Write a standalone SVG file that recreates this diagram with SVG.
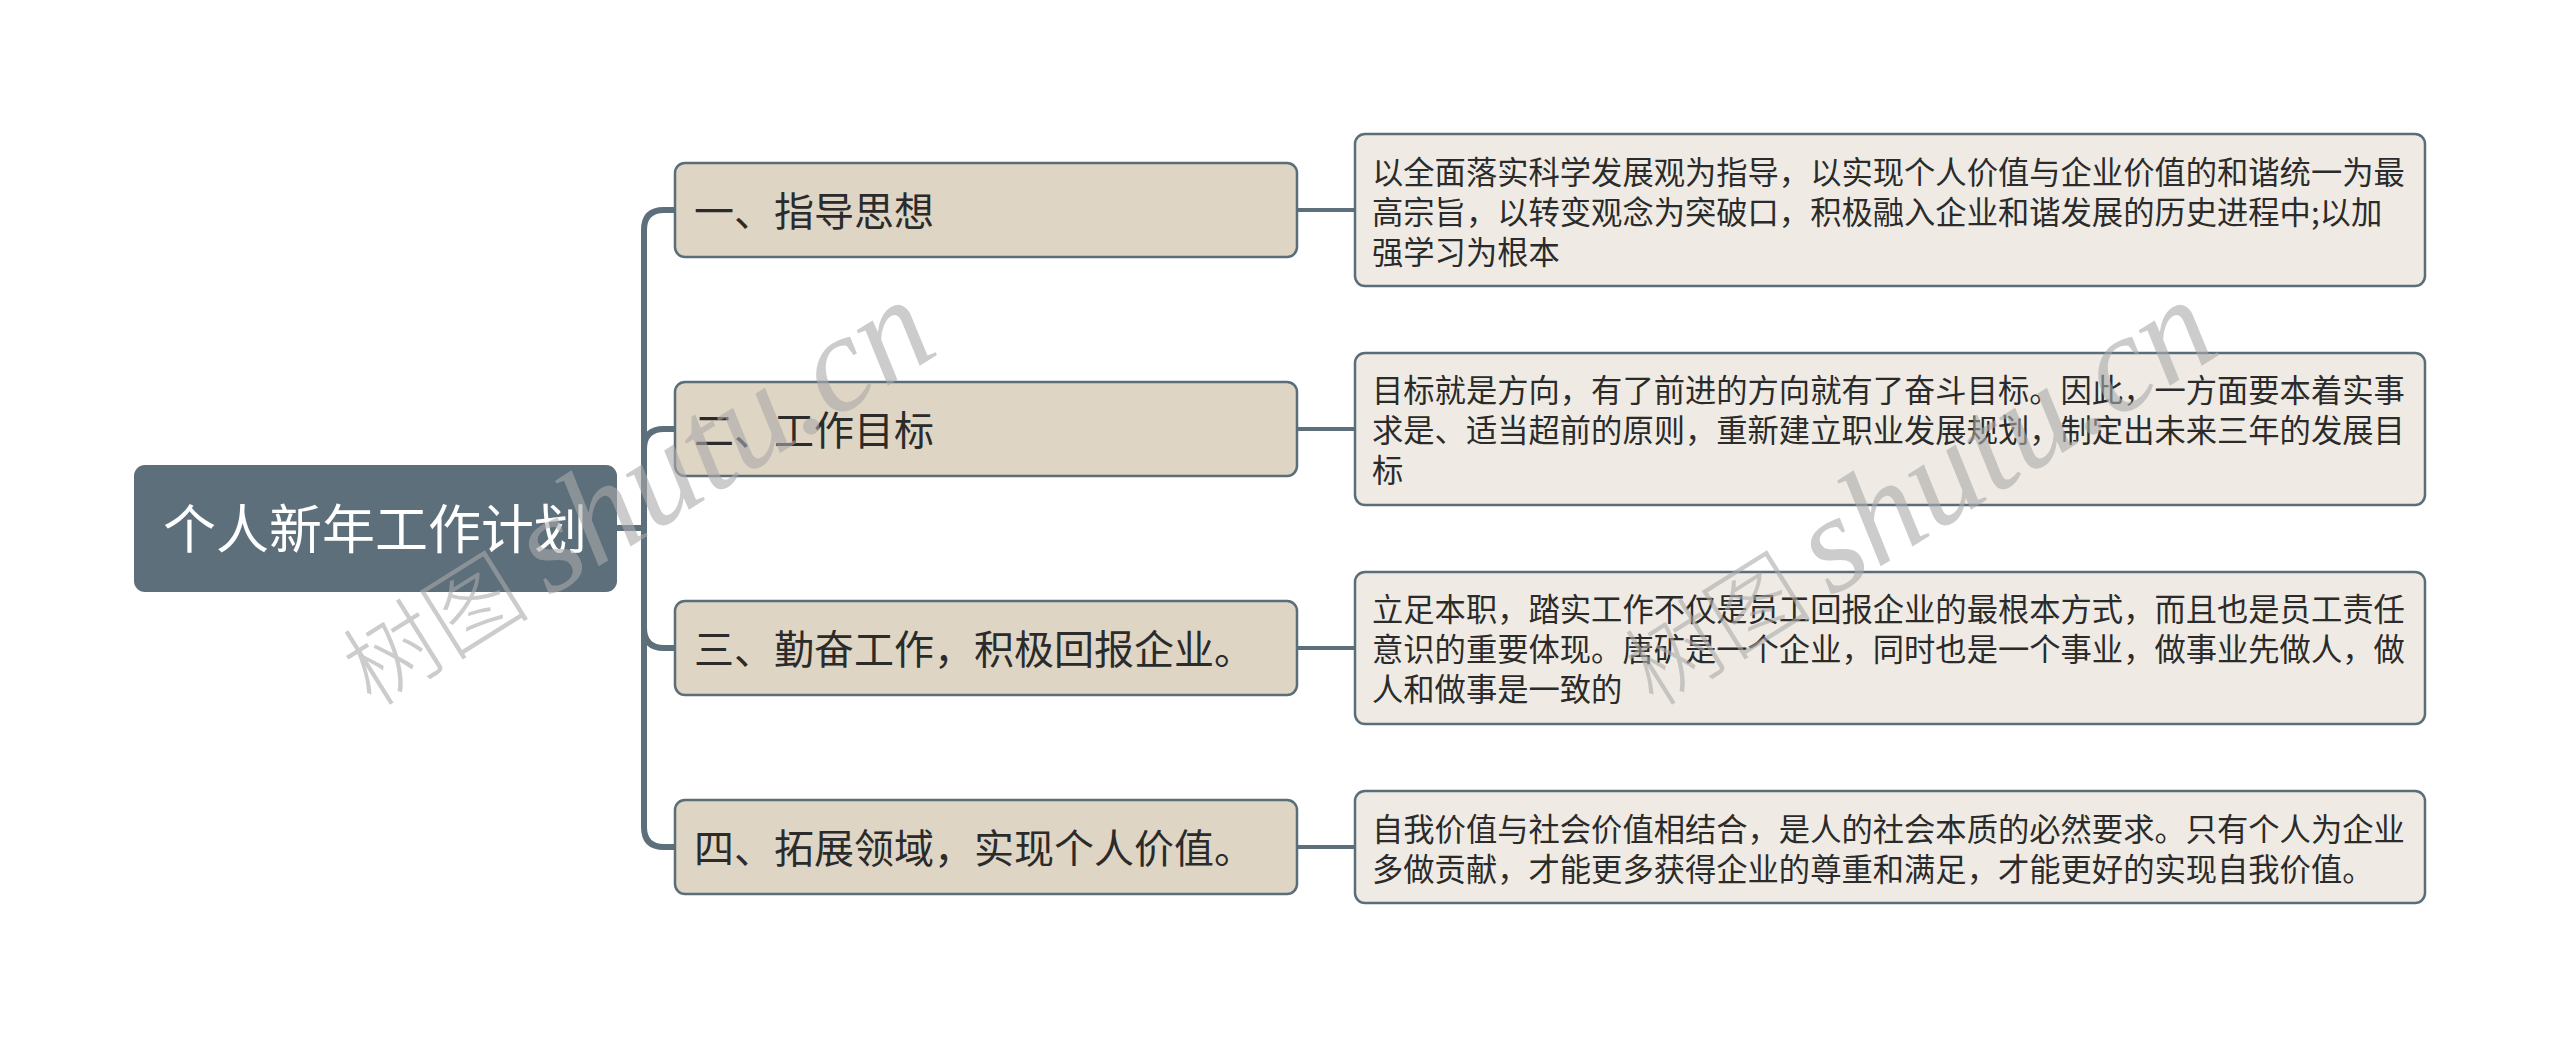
<svg xmlns="http://www.w3.org/2000/svg" width="2560" height="1037" viewBox="0 0 2560 1037">
<style>
.root{fill:#5c6f7b}
.l1{fill:#ded5c4;stroke:#5a6e7a;stroke-width:2.5}
.l2{fill:#efebe4;stroke:#5a6e7a;stroke-width:2.5}
.conn{fill:none;stroke:#5c6f7b;stroke-width:6}
.conn2{fill:none;stroke:#5c6f7b;stroke-width:4}
text{font-family:"Noto Sans CJK SC","Noto Sans",sans-serif;dominant-baseline:central}
.t0{fill:#ffffff;font-size:53px}
.t1{fill:#2b2b2b;font-size:40px}
.t2{fill:#2b2b2b;font-size:31.3px}
.wm{fill:#aaaaaa;fill-opacity:0.6;font-family:"Liberation Serif","Noto Sans CJK SC",serif;dominant-baseline:auto}
</style>
<rect width="2560" height="1037" fill="#ffffff"/>
<g id="connectors">
<path class="conn" d="M617 528 H646"/>
<path class="conn" d="M644 528 V230 Q644 210 664 210 H676"/>
<path class="conn" d="M644 528 V449 Q644 429 664 429 H676"/>
<path class="conn" d="M644 528 V628 Q644 648 664 648 H676"/>
<path class="conn" d="M644 528 V827 Q644 847 664 847 H676"/>
<path class="conn2" d="M1297 210 H1356"/>
<path class="conn2" d="M1297 429 H1356"/>
<path class="conn2" d="M1297 648 H1356"/>
<path class="conn2" d="M1297 847 H1356"/>
</g>
<g id="root">
<rect class="root" x="134" y="465" width="483" height="127" rx="11"/>
<text class="t0" x="375" y="526" text-anchor="middle">个人新年工作计划</text>
</g>
<g id="n1">
<rect class="l1" x="675" y="163" width="622" height="94" rx="10"/>
<text class="t1" x="694" y="209">一、指导思想</text>
</g>
<g id="n2">
<rect class="l1" x="675" y="382" width="622" height="94" rx="10"/>
<text class="t1" x="694" y="428">二、工作目标</text>
</g>
<g id="n3">
<rect class="l1" x="675" y="601" width="622" height="94" rx="10"/>
<text class="t1" x="694" y="647">三、勤奋工作，积极回报企业。</text>
</g>
<g id="n4">
<rect class="l1" x="675" y="800" width="622" height="94" rx="10"/>
<text class="t1" x="694" y="846">四、拓展领域，实现个人价值。</text>
</g>
<g id="n1a">
<rect class="l2" x="1355" y="134" width="1070" height="152" rx="10"/>
<text class="t2" x="1372" y="170">以全面落实科学发展观为指导，以实现个人价值与企业价值的和谐统一为最</text>
<text class="t2" x="1372" y="210">高宗旨，以转变观念为突破口，积极融入企业和谐发展的历史进程中;以加</text>
<text class="t2" x="1372" y="250">强学习为根本</text>
</g>
<g id="n2a">
<rect class="l2" x="1355" y="353" width="1070" height="152" rx="10"/>
<text class="t2" x="1372" y="388">目标就是方向，有了前进的方向就有了奋斗目标。因此，一方面要本着实事</text>
<text class="t2" x="1372" y="428">求是、适当超前的原则，重新建立职业发展规划，制定出未来三年的发展目</text>
<text class="t2" x="1372" y="468">标</text>
</g>
<g id="n3a">
<rect class="l2" x="1355" y="572" width="1070" height="152" rx="10"/>
<text class="t2" x="1372" y="607">立足本职，踏实工作不仅是员工回报企业的最根本方式，而且也是员工责任</text>
<text class="t2" x="1372" y="647">意识的重要体现。唐矿是一个企业，同时也是一个事业，做事业先做人，做</text>
<text class="t2" x="1372" y="687">人和做事是一致的</text>
</g>
<g id="n4a">
<rect class="l2" x="1355" y="791" width="1070" height="112" rx="10"/>
<text class="t2" x="1372" y="827">自我价值与社会价值相结合，是人的社会本质的必然要求。只有个人为企业</text>
<text class="t2" x="1372" y="867">多做贡献，才能更多获得企业的尊重和满足，才能更好的实现自我价值。</text>
</g>
<g id="watermarks">
<text class="wm" x="372" y="708" transform="rotate(-32 372 708)"><tspan font-size="94" font-family="Noto Sans CJK SC,sans-serif" font-weight="300">树图 </tspan><tspan font-size="138" font-style="italic">shutu.cn</tspan></text>
<text class="wm" x="1654" y="708" transform="rotate(-32 1654 708)"><tspan font-size="94" font-family="Noto Sans CJK SC,sans-serif" font-weight="300">树图 </tspan><tspan font-size="138" font-style="italic">shutu.cn</tspan></text>
</g>
</svg>
